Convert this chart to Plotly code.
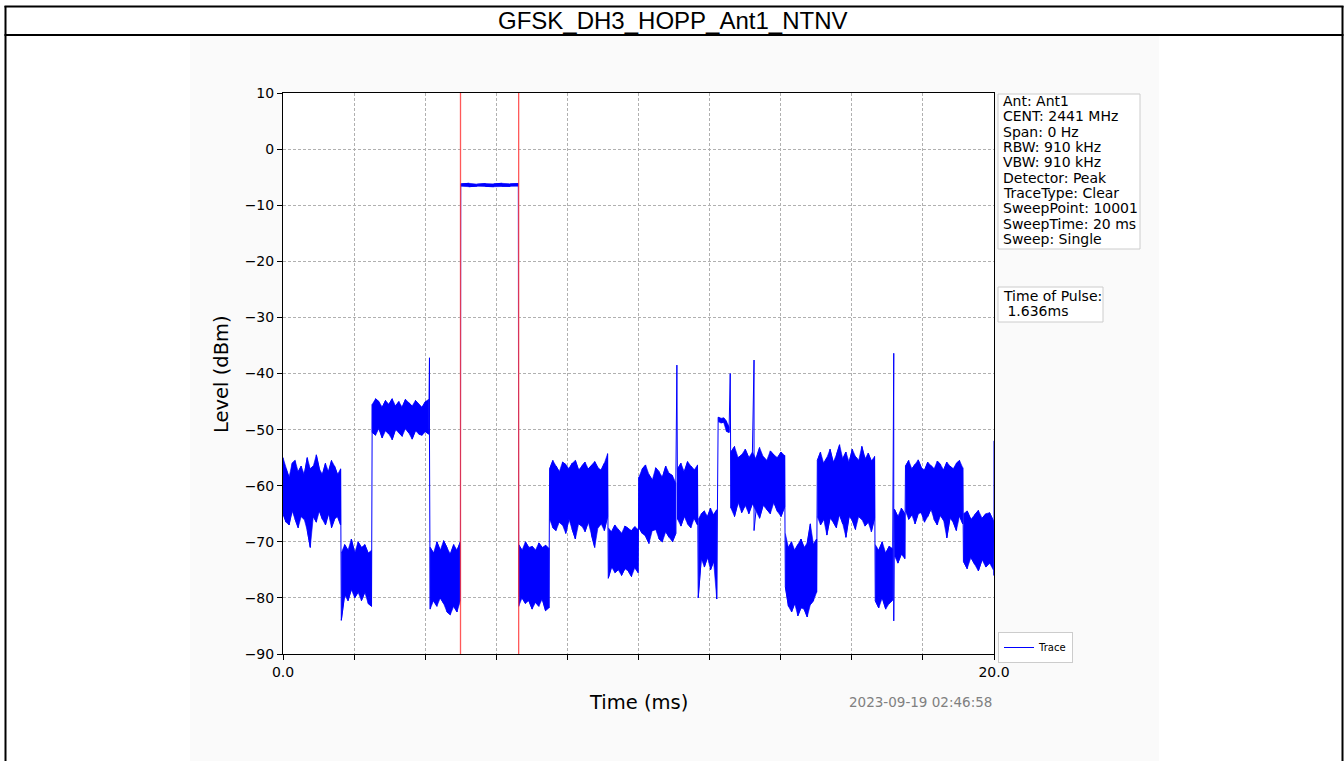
import numpy as np
import plotly.graph_objects as go

# ---------------- data ----------------
TITLE = "GFSK_DH3_HOPP_Ant1_NTNV"
x_tick_vals = [0, 2, 4, 6, 8, 10, 12, 14, 16, 18, 20]
x_tick_text = ["0.0", "", "", "", "", "", "", "", "", "", "20.0"]
y_tick_vals = [-90, -80, -70, -60, -50, -40, -30, -20, -10, 0, 10]
y_tick_text = ["\u221290", "\u221280", "\u221270", "\u221260", "\u221250", "\u221240",
               "\u221230", "\u221220", "\u221210", "0", "10"]
marker_times = [4.993, 6.629]
info_lines = ["Ant: Ant1", "CENT: 2441 MHz", "Span: 0 Hz", "RBW: 910 kHz", "VBW: 910 kHz",
              "Detector: Peak", "TraceType: Clear", "SweepPoint: 10001",
              "SweepTime: 20 ms", "Sweep: Single"]
pulse_lines = ["Time of Pulse:", "\u00a01.636ms"]
timestamp = "2023-09-19 02:46:58"

# trace envelope (peak max / min) per segment
seg_start = [0.00, 1.64, 2.51, 4.14, 5.00, 6.63, 7.50, 9.15, 10.01, 11.10,
             11.68, 12.24, 12.60, 14.13, 15.03, 16.66, 17.20, 17.51, 19.14]
seg_end = [1.62, 2.49, 4.10, 4.99, 6.62, 7.48, 9.13, 9.99, 11.05, 11.66,
           12.20, 12.55, 14.11, 15.01, 16.64, 17.15, 17.49, 19.12, 19.98]
seg_hi = [
    [-55, -57, -58.5, -56, -55.5, -57.5, -56.5, -58, -55, -57, -56.5, -54.5, -57, -58, -56, -57.5, -55.5, -56.5, -58, -57],
    [-72, -70.5, -71.5, -69.5, -72, -70, -71, -70.5, -72, -71.5],
    [-45.5, -44.5, -45, -46, -44.8, -45.5, -44.5, -45.8, -45, -46, -44.6, -45.2, -45.8, -44.8, -45.5, -46, -45, -44.6],
    [-71, -72, -70, -71.5, -69.8, -71, -72.2, -70.5, -71.5, -70],
    [-6.2, -6.1, -6.25, -6.15, -6.2, -6.1, -6.2, -6.15],
    [-70.5, -71.5, -70, -71, -70.8, -71.5, -70.2, -71, -70.6, -71.2],
    [-57, -55.5, -56.5, -57.5, -55.8, -56.2, -57, -56, -55.5, -57.2, -56.5, -55.8, -57, -56.4, -55.7, -56.8, -57.2, -56, -54.3],
    [-67.5, -68.2, -67, -67.8, -68.5, -67.2, -67.6, -68, -67.3, -67.8],
    [-58.5, -57, -56.3, -58, -59, -56.8, -57.5, -58.5, -56.5, -57.8, -58.2, -59.5],
    [-57, -56, -57.5, -55.7, -56.5, -57.2, -56.3],
    [-66, -65, -64.5, -65.5, -64, -65.2, -64.3],
    [-47.8, -48, -47.9, -48.5, -49.5],
    [-54, -53, -55, -54.5, -53.5, -55, -54, -55.2, -53.2, -54.8, -55.5, -53.8, -54.5, -55, -54, -54.6],
    [-68.5, -71, -70, -71.5, -70.5, -69.5, -71, -70.2, -66.8, -70.5, -69.5],
    [-55.5, -54, -56, -55, -53.5, -55.8, -54.5, -52.7, -55.2, -54, -55.8, -53.5, -54.8, -55.5, -53, -55.2, -54.2, -55.6, -54.8],
    [-70.5, -71.5, -70, -72, -70.8, -71.2],
    [-64.2, -65.5, -64, -65],
    [-56.5, -55.5, -57, -56.2, -55.4, -56.8, -57.2, -55.8, -56.4, -57, -55.6, -56.2, -57.2, -55.8, -56.5, -57, -56, -55.5, -56.8],
    [-65, -64.5, -66, -65.2, -64.4, -65.8, -65, -64.8, -66.2],
]
seg_lo = [
    [-65, -66.5, -67, -64.5, -66, -67.5, -65.5, -66, -68, -71, -65.5, -66.5, -64.5, -66, -67, -65, -67.5, -66, -65.5, -67],
    [-84, -79.5, -80.5, -78.5, -80, -79, -80.5, -79, -81, -81.5],
    [-50.5, -51, -49.8, -51.5, -50.2, -50.8, -51.8, -50, -50.5, -51.2, -49.8, -50.6, -51.7, -50.2, -50.8, -51, -50.4, -50.8],
    [-82, -80.5, -81.5, -80, -81, -82.5, -83, -81.5, -82.5, -80.5],
    [-6.6, -6.7, -6.6, -6.65, -6.7, -6.6, -6.65, -6.6],
    [-81.5, -80, -81, -80.5, -82, -80.8, -81.5, -80.2, -82.3, -81.8],
    [-66, -67.5, -68, -66.5, -67, -68.5, -66, -67.8, -69.5, -66.8, -67.2, -68.2, -66.5, -68.8, -71, -67.5, -66.8, -68, -65.5],
    [-76.5, -74.5, -75.5, -75, -76, -74.8, -75.2, -76.2, -74.6, -75.5],
    [-67.5, -68.5, -69, -70.3, -68, -67.8, -69.5, -70, -68.2, -69.2, -70, -68.5],
    [-66, -67.2, -65.5, -66.8, -67.5, -65.8, -67],
    [-80, -73, -74.5, -72.8, -75, -73.5, -80.2],
    [-48.6, -48.8, -48.7, -50.3, -50.5],
    [-64, -65.5, -63, -64.8, -63.5, -65, -63.2, -64.5, -65.8, -63.5, -64.2, -65, -63, -64.6, -65.5, -63.8],
    [-78, -81.5, -82.5, -81, -83.2, -81.8, -82, -83.4, -81.2, -80.5, -79],
    [-65.5, -67, -66, -68.8, -65.8, -66.5, -67.5, -65.2, -66.8, -69.2, -65.5, -66.2, -67.8, -65.5, -66, -67.2, -66.5, -68.2, -65.8],
    [-80.5, -81.8, -80, -82, -81, -80.4],
    [-72.5, -73.8, -72.2, -73],
    [-64.5, -66, -65.2, -66.8, -65, -64.8, -66.5, -65.5, -64.2, -66, -67, -65.3, -66.2, -69.3, -65.8, -66.5, -68, -65.4, -66.8],
    [-73.5, -74.8, -72.8, -74, -75.2, -73.2, -74.5, -73.8, -75],
]
spike_t = [4.12, 11.08, 12.58, 13.25, 17.18, 20.0]
spike_hi = [-37.2, -38.5, -40.0, -37.6, -36.4, -52.0]
spike_lo = [-51.5, -62.0, -58.0, -68.0, -84.1, -76.0]

# ---------------- figure ----------------
W, H = 1344, 761


def px(x):
    return x / W


def py(y):
    return 1 - y / H


BLUE = "#0000ff"
fig = go.Figure()

# solid envelope blocks
samples = []
for t0, t1, hi, lo in zip(seg_start, seg_end, seg_hi, seg_lo):
    t = np.linspace(t0, t1, len(hi))
    samples += list(zip(t, hi, lo))
    fig.add_trace(go.Scatter(
        x=np.concatenate([t, t[::-1]]), y=np.concatenate([hi, lo[::-1]]),
        fill="toself", fillcolor=BLUE, mode="lines",
        line=dict(color=BLUE, width=0.6), showlegend=False, hoverinfo="skip"))
samples += list(zip(spike_t, spike_hi, spike_lo))
samples.sort(key=lambda s: s[0])

xs, ys = [], []
for i, (t, hi, lo) in enumerate(samples):
    pair = (hi, lo) if i % 2 == 0 else (lo, hi)
    xs += [t, t]
    ys += list(pair)
fig.add_trace(go.Scatter(x=xs, y=ys, mode="lines", name="Trace",
                         line=dict(color=BLUE, width=1)))

shapes = [
    # chart image background
    dict(type="rect", xref="paper", yref="paper", x0=px(190), x1=px(1159), y0=py(36), y1=py(H + 5),
         fillcolor="#fafafa", line=dict(width=0), layer="below"),
    dict(type="rect", xref="paper", yref="paper", x0=px(283), x1=px(994), y0=py(93), y1=py(654),
         fillcolor="white", line=dict(width=0), layer="below"),
    # outer frame
    dict(type="line", xref="paper", yref="paper", x0=px(5.5), x1=px(5.5), y0=py(6), y1=py(H + 5),
         line=dict(color="black", width=2)),
    dict(type="line", xref="paper", yref="paper", x0=px(1342.5), x1=px(1342.5), y0=py(6), y1=py(H + 5),
         line=dict(color="black", width=2)),
    dict(type="line", xref="paper", yref="paper", x0=px(4.5), x1=px(1343.5), y0=py(6.5), y1=py(6.5),
         line=dict(color="black", width=2)),
    # title separator
    dict(type="line", xref="paper", yref="paper", x0=px(4.5), x1=px(1343.5), y0=py(35), y1=py(35),
         line=dict(color="black", width=2)),
    dict(type="rect", xref="paper", yref="paper", x0=px(190), x1=px(1159), y0=py(36), y1=py(35.9),
         fillcolor="#fafafa", line=dict(width=0)),
    # info boxes
    dict(type="rect", xref="paper", yref="paper", x0=px(998), x1=px(1140), y0=py(94), y1=py(249),
         fillcolor="white", line=dict(color="#cccccc", width=1)),
    dict(type="rect", xref="paper", yref="paper", x0=px(998), x1=px(1103), y0=py(287), y1=py(322),
         fillcolor="white", line=dict(color="#cccccc", width=1)),
]
for mt in marker_times:
    shapes.append(dict(type="line", xref="x", yref="y", x0=mt, x1=mt, y0=y_tick_vals[0], y1=y_tick_vals[-1],
                       line=dict(color="rgba(255,60,60,0.85)", width=1.3), layer="above"))

FONT = "DejaVu Sans"
ann = [
    dict(text=TITLE, x=px(672), y=py(21), font=dict(family="Liberation Sans", size=24, color="black"),
         xanchor="center", yanchor="middle"),
    dict(text="Level (dBm)", x=px(222), y=py(374), textangle=-90,
         font=dict(family=FONT, size=19.5, color="black"), xanchor="center", yanchor="middle"),
    dict(text="Time (ms)", x=px(638), y=py(702),
         font=dict(family=FONT, size=19.5, color="black"), xanchor="center", yanchor="middle"),
    dict(text=timestamp, x=px(994), y=py(702),
         font=dict(family=FONT, size=13.5, color="#808080"), xanchor="right", yanchor="middle"),
]
for i, s in enumerate(info_lines):
    ann.append(dict(text=s, x=px(1001), y=py(101 + 15.33 * i), font=dict(family=FONT, size=14, color="black"),
                    xanchor="left", yanchor="middle"))
for i, s in enumerate(pulse_lines):
    ann.append(dict(text=s, x=px(1001), y=py(296 + 15.33 * i), font=dict(family=FONT, size=14, color="black"),
                    xanchor="left", yanchor="middle"))
for a in ann:
    a.update(xref="paper", yref="paper", showarrow=False)

axis_common = dict(
    showgrid=True, gridcolor="#b0b0b0", griddash="3px,2px", gridwidth=0.8,
    showline=True, mirror=True, linecolor="black", linewidth=1,
    ticks="outside", ticklen=5, tickwidth=1, tickcolor="black",
    zeroline=False, tickfont=dict(family=FONT, size=14, color="black"),
    tickmode="array", automargin=False,
)
fig.update_layout(
    width=W, height=H, margin=dict(l=0, r=0, t=0, b=0, pad=0, autoexpand=False),
    paper_bgcolor="white", plot_bgcolor="white",
    xaxis=dict(domain=[px(283), px(994)], range=[0, 20], tickvals=x_tick_vals, ticktext=x_tick_text,
               **axis_common),
    yaxis=dict(domain=[py(654), py(93)], range=[-90, 10], tickvals=y_tick_vals, ticktext=y_tick_text,
               **axis_common),
    shapes=shapes, annotations=ann,
    showlegend=True,
    legend=dict(x=px(998), y=py(632), xanchor="left", yanchor="top",
                font=dict(family=FONT, size=10, color="black"),
                bgcolor="white", bordercolor="#cccccc", borderwidth=1),
)

fig.write_html("out.html", config={"displayModeBar": False},
               post_script="document.body.style.margin='0';")
